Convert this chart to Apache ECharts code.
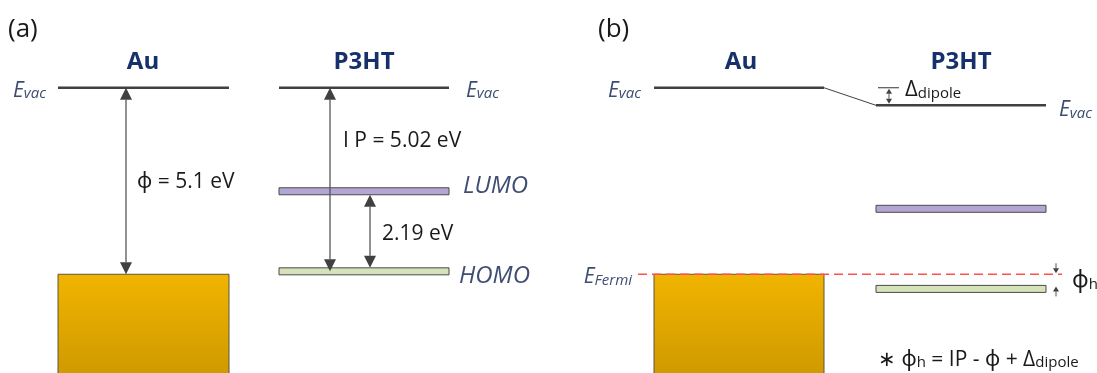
<!DOCTYPE html>
<html>
<head>
<meta charset="utf-8">
<script src="https://cdn.jsdelivr.net/npm/echarts@6/dist/echarts.min.js"></script>
<style>
  html, body { margin: 0; padding: 0; background: #ffffff; }
  #chart { width: 1097px; height: 373px; }
</style>
</head>
<body>
<div id="chart"></div>
<script>
// Energy-level alignment at the Au / P3HT interface
const panelLabels = ['(a)', '(b)'];
const materials = ['Au', 'P3HT'];
const levelNames = ['LUMO', 'HOMO'];
const auWorkFunction = 5.1;    // ϕ, eV
const p3htIP = 5.02;           // ionization potential, eV
const p3htGap = 2.19;          // HOMO-LUMO gap, eV
const interfaceDipole = 0.48;  // Δdipole, eV

// Energies relative to the Au vacuum level (eV, downwards negative)
const levelsA = {
  vacAu: 0,
  vacOrg: 0,
  lumo: -(p3htIP - p3htGap),
  homo: -p3htIP,
  fermi: -auWorkFunction
};
const levelsB = {
  vacAu: 0,
  vacOrg: -interfaceDipole,
  lumo: -interfaceDipole - (p3htIP - p3htGap),
  homo: -interfaceDipole - p3htIP,
  fermi: -auWorkFunction
};

const FONT = '"Open Sans", "Noto Sans", sans-serif';
const NAVY = '#15306a';
const SLATE = '#3e4d73';
const INK = '#1a1a1a';
const LEVEL = '#404040';

// column extents along the layout x axis
const COL = {
  aAu: [58, 229], aOrg: [279, 449],
  bAu: [654, 824], bOrg: [876, 1046]
};

function renderDiagram(params, api) {
  const Y = (e) => api.coord([0, e])[1];
  const bottom = api.coord([0, -7.8])[1];
  const kids = [];

  const line = (x1, y1, x2, y2, w, c, dash) => kids.push({
    type: 'line', shape: { x1, y1, x2, y2 },
    style: { stroke: c, lineWidth: w, lineDash: dash || null }
  });
  const head = (x, yTip, dir, len, half) => kids.push({
    type: 'polygon',
    shape: { points: [[x, yTip], [x - half, yTip - dir * len], [x + half, yTip - dir * len]] },
    style: { fill: LEVEL }
  });
  // arrow between two pixel rows; heads: 'both' | 'end'
  const arrow = (x, yFrom, yTo, heads, len, half, w) => {
    const dir = yTo > yFrom ? 1 : -1;
    const a = heads === 'both' ? yFrom + dir * len : yFrom;
    line(x, a, x, yTo - dir * len, w, '#555555');
    head(x, yTo, dir, len, half);
    if (heads === 'both') head(x, yFrom, -dir, len, half);
  };
  const bar = (cols, e, fill) => {
    const y = Y(e);
    kids.push({
      type: 'rect', shape: { x: cols[0], y: y - 3.5, width: cols[1] - cols[0], height: 7 },
      style: { fill, stroke: '#4a4a4a', lineWidth: 1 }
    });
  };
  const metal = (cols, e) => {
    const y = Y(e);
    kids.push({
      type: 'rect', shape: { x: cols[0], y, width: cols[1] - cols[0], height: bottom - y + 2 },
      style: {
        fill: new echarts.graphic.LinearGradient(0, 0, 0, 1, [
          { offset: 0, color: '#f1b400' }, { offset: 1, color: '#cf9a00' }
        ]),
        stroke: '#5b5540', lineWidth: 1
      }
    });
  };
  const text = (str, x, y, o) => kids.push({
    type: 'text',
    style: Object.assign({
      text: str, x, y, fontFamily: FONT, fontSize: 20, fill: INK,
      align: 'left', verticalAlign: 'middle'
    }, o || {})
  });
  const subRich = (big, small, color, italic) => ({
    n: { fontSize: big, fill: color, color, fontStyle: italic ? 'italic' : 'normal', fontFamily: FONT },
    s: { fontSize: small, fill: color, color, fontStyle: italic ? 'italic' : 'normal', fontFamily: FONT,
         verticalAlign: 'bottom' }
  });
  const evac = (x, y, align) => text('{n|E}{s|vac}', x, y, {
    align, rich: subRich(21, 15, SLATE, true)
  });

  // ---------- panel (a) ----------
  text(panelLabels[0], 8, 30, { fontSize: 26 });
  text(materials[0], 143, 62, { fontSize: 24, fontWeight: 'bold', fill: NAVY, align: 'center' });
  text(materials[1], 364, 62, { fontSize: 24, fontWeight: 'bold', fill: NAVY, align: 'center' });

  metal(COL.aAu, levelsA.fermi);
  line(COL.aAu[0], Y(levelsA.vacAu), COL.aAu[1], Y(levelsA.vacAu), 2.5, LEVEL);
  line(COL.aOrg[0], Y(levelsA.vacOrg), COL.aOrg[1], Y(levelsA.vacOrg), 2.5, LEVEL);
  bar(COL.aOrg, levelsA.lumo, '#b3a6d4');
  bar(COL.aOrg, levelsA.homo, '#d5e2ba');

  evac(46, Y(levelsA.vacAu) + 3, 'right');
  evac(466, Y(levelsA.vacOrg) + 3, 'left');
  text(levelNames[0], 463, Y(levelsA.lumo) - 5, { fontSize: 24, fontStyle: 'italic', fill: SLATE });
  text(levelNames[1], 459, Y(levelsA.homo) + 5, { fontSize: 24, fontStyle: 'italic', fill: SLATE });

  // work function of Au
  arrow(126, Y(levelsA.vacAu), Y(levelsA.fermi), 'both', 12, 6, 1.3);
  text('ϕ = ' + auWorkFunction + ' eV', 137, (Y(levelsA.vacAu) + Y(levelsA.fermi)) / 2 + 1, { fontSize: 21 });
  // ionization potential of P3HT
  arrow(330, Y(levelsA.vacOrg), Y(levelsA.homo), 'both', 12, 6, 1.3);
  text('I P = ' + p3htIP.toFixed(2) + ' eV', 343, Y(levelsA.vacOrg + (levelsA.homo - levelsA.vacOrg) * 0.29), { fontSize: 21 });
  // band gap
  arrow(370, Y(levelsA.lumo) + 3.5, Y(levelsA.homo) - 3.5, 'both', 12, 6, 1.3);
  text(p3htGap + ' eV', 382, (Y(levelsA.lumo) + Y(levelsA.homo)) / 2 + 3, { fontSize: 21 });

  // ---------- panel (b) ----------
  text(panelLabels[1], 598, 30, { fontSize: 26 });
  text(materials[0], 741, 62, { fontSize: 24, fontWeight: 'bold', fill: NAVY, align: 'center' });
  text(materials[1], 961, 62, { fontSize: 24, fontWeight: 'bold', fill: NAVY, align: 'center' });

  metal(COL.bAu, levelsB.fermi);
  line(COL.bAu[0], Y(levelsB.vacAu), COL.bAu[1], Y(levelsB.vacAu), 2.5, LEVEL);
  line(COL.bAu[1], Y(levelsB.vacAu), COL.bOrg[0], Y(levelsB.vacOrg), 1, LEVEL);
  line(COL.bOrg[0], Y(levelsB.vacOrg), COL.bOrg[1], Y(levelsB.vacOrg), 2.5, LEVEL);
  bar(COL.bOrg, levelsB.lumo, '#b3a6d4');
  bar(COL.bOrg, levelsB.homo, '#d5e2ba');

  // Fermi level
  line(638, Y(levelsB.fermi), 1062, Y(levelsB.fermi), 1.5, '#ff4f4f', [9, 5]);

  evac(641, Y(levelsB.vacAu) + 3, 'right');
  evac(1059, Y(levelsB.vacOrg) + 5, 'left');
  text('{n|E}{s|Fermi}', 632, Y(levelsB.fermi) + 3, { align: 'right', rich: subRich(21, 15, SLATE, true) });

  // interface dipole
  line(878, Y(levelsB.vacAu), 899, Y(levelsB.vacAu), 1, '#333333');
  arrow(889, Y(levelsB.vacAu) + 1, Y(levelsB.vacOrg) - 1.5, 'both', 5, 3, 1);
  text('{n|Δ}{s|dipole}', 905, Y(levelsB.vacAu) + 2, { rich: subRich(22, 15, INK, false) });

  // hole injection barrier ϕh
  const yF = Y(levelsB.fermi), yH = Y(levelsB.homo) - 3.5;
  arrow(1056, yF - 11, yF - 1, 'end', 5, 3, 1);
  arrow(1056, yH + 11, yH + 1, 'end', 5, 3, 1);
  text('{n|ϕ}{s|h}', 1072, (yF + yH) / 2 + 1, { rich: subRich(23, 15, INK, false) });

  text('{n|∗ ϕ}{s|h}{n| = IP - ϕ + Δ}{s|dipole}', 878, 360,
       { rich: subRich(21, 15, INK, false) });

  return { type: 'group', children: kids, silent: true };
}

const chart = echarts.init(document.getElementById('chart'), null, { renderer: 'canvas' });
chart.setOption({
  animation: false,
  backgroundColor: '#ffffff',
  grid: { left: 0, right: 0, top: 0, bottom: 0 },
  xAxis: { type: 'value', min: 0, max: 1097, show: false },
  yAxis: { type: 'value', min: -7.8, max: 2.4, show: false },
  series: [{
    type: 'custom',
    coordinateSystem: 'cartesian2d',
    clip: false,
    data: [[0, 0]],
    renderItem: renderDiagram
  }]
});
</script>
</body>
</html>
